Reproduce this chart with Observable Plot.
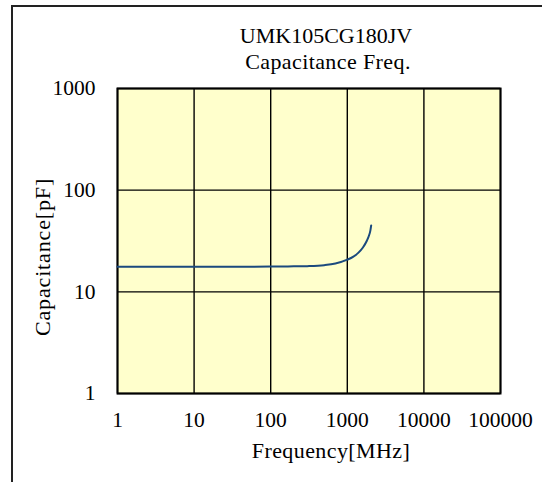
<!DOCTYPE html>
<html>
<head>
<meta charset="utf-8">
<script src="https://cdn.jsdelivr.net/npm/d3@7"></script>
<script src="https://cdn.jsdelivr.net/npm/@observablehq/plot@0.6"></script>
<style>
  html, body { margin: 0; padding: 0; background: #fff; }
  #chart svg { display: block; }
</style>
</head>
<body>
<div id="chart"></div>
<script>
// Data
const freqMHz = [1, 10, 100, 200, 300, 500, 700, 1000, 1200, 1400, 1600, 1800, 1900, 2000, 2050];
const capPF   = [17.6, 17.6, 17.7, 17.8, 17.9, 18.3, 19.0, 20.7, 22.2, 24.3, 27.3, 31.8, 35.0, 40.0, 45.0];
const xTicks = [1, 10, 100, 1000, 10000, 100000];
const yTicks = [1, 10, 100, 1000];
const titleLines = ["UMK105CG180JV", "Capacitance Freq."];
const xLabel = "Frequency[MHz]";
const yLabel = "Capacitance[pF]";

const data = freqMHz.map((f, i) => ({f, c: capPF[i]}));
const font = "'Liberation Serif', 'Times New Roman', serif";

const chart = Plot.plot({
  width: 542,
  height: 482,
  marginLeft: 117,
  marginRight: 42,
  marginTop: 88,
  marginBottom: 89,
  style: {fontFamily: font, fontSize: "22px", color: "#000", background: "#fff"},
  x: {type: "log", domain: [1, 100000], axis: null},
  y: {type: "log", domain: [1, 1000], axis: null},
  marks: [
    Plot.frame({fill: "#FFFFCC", stroke: null}),
    Plot.ruleX(xTicks, {stroke: "#000", strokeWidth: 1.4}),
    Plot.ruleY(yTicks, {stroke: "#000", strokeWidth: 1.4}),
    Plot.frame({stroke: "#000", strokeWidth: 2}),
    Plot.line(data, {x: "f", y: "c", stroke: "#1B4A7E", strokeWidth: 2, curve: "monotone-x"}),
    Plot.text(xTicks, {x: d => d, frameAnchor: "bottom", lineAnchor: "middle", dy: 27, text: d => String(d), fill: "#000", fontSize: 21.5}),
    Plot.text(yTicks, {y: d => d, frameAnchor: "left", lineAnchor: "middle", dx: -22, textAnchor: "end", text: d => String(d), fill: "#000", fontSize: 21.5}),
    Plot.text([titleLines[0]], {frameAnchor: "top", lineAnchor: "middle", dx: 17, dy: -52.5, fill: "#000", fontSize: 22}),
    Plot.text([titleLines[1]], {frameAnchor: "top", lineAnchor: "middle", dx: 19, dy: -26.5, fill: "#000", fontSize: 22}),
    Plot.text([xLabel], {frameAnchor: "bottom", lineAnchor: "middle", dx: 22, dy: 57, fill: "#000", fontSize: 22}),
    Plot.text([yLabel], {frameAnchor: "left", lineAnchor: "middle", textAnchor: "middle", dx: -75, dy: 16, rotate: -90, fill: "#000", fontSize: 22})
  ]
});

const svg = d3.select(chart);
svg.selectAll("text").filter(function() { return this.textContent === xLabel; }).attr("letter-spacing", "0.4");
svg.selectAll("text").filter(function() { return this.textContent === yLabel; }).attr("letter-spacing", "0.85");
svg.selectAll("text").filter(function() { return this.textContent === titleLines[1]; }).attr("letter-spacing", "0.4");
svg.append("rect")
  .attr("x", 12).attr("y", 6).attr("width", 560).attr("height", 500)
  .attr("fill", "none").attr("stroke", "#222").attr("stroke-width", 2);

document.getElementById("chart").appendChild(chart);
</script>
</body>
</html>
